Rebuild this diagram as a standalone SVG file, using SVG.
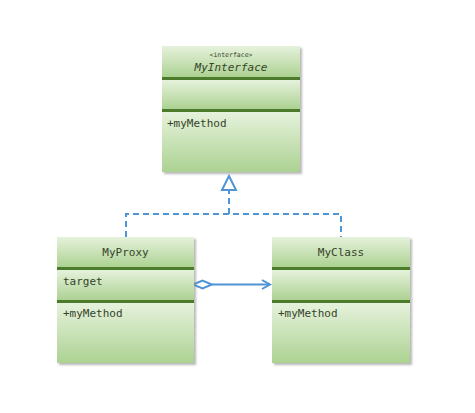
<svg xmlns="http://www.w3.org/2000/svg" width="475" height="413" viewBox="0 0 475 413">
<defs>
<linearGradient id="g" x1="0" y1="0" x2="0" y2="1">
<stop offset="0" stop-color="#e6f2dc"/>
<stop offset="1" stop-color="#acd292"/>
</linearGradient>
<filter id="sh" x="-10%" y="-10%" width="130%" height="130%">
<feGaussianBlur stdDeviation="1.2"/>
</filter>
</defs>
<style>
.c{fill:url(#g)}
.d{fill:#4d7b2c}
.s{fill:#888;opacity:0.6;filter:url(#sh)}
.t{font-family:"DejaVu Sans Mono","Liberation Mono",monospace;font-size:11px;fill:#34432a}
.st{font-family:"DejaVu Sans Mono","Liberation Mono",monospace;font-size:6.5px;fill:#34432a}
.ln{fill:none;stroke:#4f94d6;stroke-width:2}
.dash{stroke-dasharray:6,4}
</style>
<rect width="475" height="413" fill="#fff"/>
<g id="connectors">
<path class="ln dash" d="M126,237 V214 H341 V237"/>
<path class="ln dash" d="M229,214 V191"/>
<polygon points="229,176 222,190 236,190" fill="#fff" stroke="#4f94d6" stroke-width="2"/>
<line class="ln" x1="212" y1="284.5" x2="270" y2="284.5"/>
<polygon points="193,284.5 202.5,280.5 212,284.5 202.5,288.5" fill="#fff" stroke="#4f94d6" stroke-width="2"/>
<polyline class="ln" points="262,280 270,284.5 262,289"/>
</g>
<g id="MyInterface">
<rect class="s" x="164" y="48" width="138" height="126"/>
<rect class="c" x="162" y="46" width="138" height="31"/>
<rect class="d" x="162" y="77" width="138" height="3"/>
<rect class="c" x="162" y="80" width="138" height="29"/>
<rect class="d" x="162" y="109" width="138" height="3"/>
<rect class="c" x="162" y="112" width="138" height="60"/>
<text class="st" x="231" y="57" text-anchor="middle">&lt;interface&gt;</text>
<text class="t" x="231" y="71" text-anchor="middle" font-style="italic">MyInterface</text>
<text class="t" x="167" y="127">+myMethod</text>
</g>
<g id="MyProxy">
<rect class="s" x="59" y="239" width="137" height="126"/>
<rect class="c" x="57" y="237" width="137" height="30"/>
<rect class="d" x="57" y="267" width="137" height="3"/>
<rect class="c" x="57" y="270" width="137" height="30"/>
<rect class="d" x="57" y="300" width="137" height="3"/>
<rect class="c" x="57" y="303" width="137" height="60"/>
<text class="t" x="125.5" y="256" text-anchor="middle">MyProxy</text>
<text class="t" x="63" y="285">target</text>
<text class="t" x="63" y="317">+myMethod</text>
</g>
<g id="MyClass">
<rect class="s" x="274" y="239" width="138" height="126"/>
<rect class="c" x="272" y="237" width="138" height="30"/>
<rect class="d" x="272" y="267" width="138" height="3"/>
<rect class="c" x="272" y="270" width="138" height="30"/>
<rect class="d" x="272" y="300" width="138" height="3"/>
<rect class="c" x="272" y="303" width="138" height="60"/>
<text class="t" x="341" y="256" text-anchor="middle">MyClass</text>
<text class="t" x="278" y="317">+myMethod</text>
</g>
</svg>
